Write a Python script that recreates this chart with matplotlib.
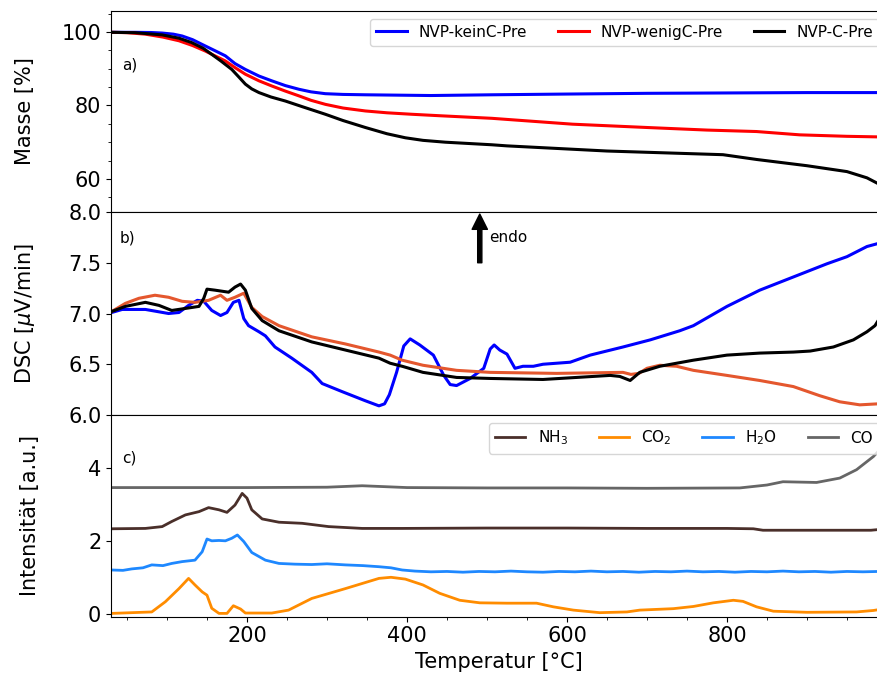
import matplotlib
matplotlib.use("Agg")
import matplotlib.pyplot as plt
from matplotlib.ticker import MultipleLocator

# ---------------- a) TG: mass loss ----------------
tg_keinC_T = [31, 60, 80, 94, 108, 119, 132, 144, 160, 173, 185, 198, 215, 231, 248, 265, 280, 298, 320, 348, 430, 506, 600, 700, 800, 900, 1000]
tg_keinC_M = [99.9, 99.9, 99.85, 99.7, 99.4, 98.9, 97.9, 96.6, 94.9, 93.5, 91.4, 89.8, 88.0, 86.7, 85.4, 84.4, 83.7, 83.2, 83.0, 82.9, 82.7, 82.9, 83.1, 83.3, 83.4, 83.5, 83.5]

tg_wenigC_T = [31, 50, 73, 95, 115, 132, 148, 160, 173, 185, 198, 215, 231, 248, 265, 280, 298, 320, 348, 375, 406, 441, 506, 607, 700, 775, 837, 891, 950, 1000]
tg_wenigC_M = [99.9, 99.8, 99.4, 98.6, 97.6, 96.3, 94.8, 93.5, 92.1, 90.3, 88.5, 86.7, 85.3, 83.9, 82.6, 81.4, 80.3, 79.3, 78.5, 78.0, 77.6, 77.2, 76.5, 74.9, 74.0, 73.3, 72.9, 72.0, 71.6, 71.4]

tg_C_T = [31, 60, 94, 115, 131, 145, 156, 168, 181, 190, 198, 206, 215, 230, 248, 270, 298, 320, 348, 375, 398, 420, 448, 506, 525, 650, 795, 837, 900, 950, 975, 990, 1000]
tg_C_M = [99.9, 99.8, 99.2, 98.3, 97.1, 95.6, 93.9, 92.0, 89.8, 87.7, 85.8, 84.5, 83.5, 82.3, 81.2, 79.6, 77.6, 75.9, 74.0, 72.3, 71.2, 70.5, 70.0, 69.3, 69.0, 67.6, 66.6, 65.3, 63.6, 62.0, 60.3, 58.6, 57.0]

# ---------------- b) DSC ----------------
dsc_keinC_T = [31, 44, 73, 102, 115, 127, 138, 146, 156, 167, 175, 183, 190, 196, 202, 215, 223, 235, 256, 281,
               294, 319, 348, 365, 372, 378, 387, 396, 404, 416, 433, 446, 454, 462, 479, 496, 504, 509, 516, 525,
               535, 545, 558, 570, 587, 604, 629, 670, 704, 741, 758, 800, 841, 883, 925, 950, 975, 989, 1000]
dsc_keinC_D = [7.01, 7.04, 7.04, 7.00, 7.01, 7.08, 7.13, 7.12, 7.03, 6.98, 7.01, 7.11, 7.13, 6.95, 6.88, 6.82, 6.78, 6.67, 6.56, 6.42,
               6.31, 6.23, 6.14, 6.09, 6.11, 6.20, 6.42, 6.68, 6.75, 6.69, 6.59, 6.39, 6.30, 6.29, 6.36, 6.46, 6.65, 6.69, 6.64, 6.60,
               6.46, 6.48, 6.48, 6.50, 6.51, 6.52, 6.59, 6.67, 6.74, 6.83, 6.88, 7.07, 7.23, 7.36, 7.49, 7.56, 7.66, 7.69, 7.71]

dsc_wenigC_T = [31, 48, 65, 85, 102, 119, 135, 152, 167, 175, 185, 196, 206, 219, 240, 281, 323, 365, 379, 394, 420,
                462, 504, 587, 670, 680, 690, 700, 716, 737, 758, 800, 841, 883, 916, 941, 966, 989, 1000]
dsc_wenigC_D = [7.02, 7.10, 7.15, 7.18, 7.16, 7.12, 7.11, 7.13, 7.18, 7.13, 7.16, 7.20, 7.06, 6.97, 6.88, 6.77, 6.70, 6.62, 6.59, 6.54, 6.49,
                6.44, 6.42, 6.41, 6.42, 6.40, 6.41, 6.46, 6.49, 6.48, 6.44, 6.39, 6.34, 6.28, 6.19, 6.13, 6.10, 6.11, 6.11]

dsc_C_T = [31, 48, 73, 90, 106, 123, 140, 146, 150, 160, 177, 185, 192, 198, 206, 219, 240, 281, 323, 365, 379, 394,
           420, 462, 504, 570, 612, 654, 666, 679, 691, 716, 758, 800, 841, 883, 904, 933, 958, 975, 985, 989, 1000]
dsc_C_D = [7.02, 7.07, 7.11, 7.08, 7.03, 7.05, 7.07, 7.15, 7.24, 7.23, 7.21, 7.26, 7.29, 7.23, 7.05, 6.93, 6.83, 6.72, 6.64, 6.56, 6.51, 6.48,
           6.42, 6.37, 6.36, 6.35, 6.37, 6.39, 6.38, 6.34, 6.42, 6.48, 6.54, 6.59, 6.61, 6.62, 6.63, 6.67, 6.74, 6.82, 6.88, 6.93, 7.05]

# ---------------- c) MS ion currents ----------------
ms_NH3_T = [31, 73, 94, 106, 123, 140, 152, 165, 175, 185, 194, 200, 206, 219, 240, 269, 302, 344, 394, 500, 600, 700,
            800, 833, 845, 900, 980, 1000]
ms_NH3_I = [2.34, 2.35, 2.40, 2.54, 2.72, 2.81, 2.92, 2.86, 2.79, 2.99, 3.31, 3.18, 2.86, 2.61, 2.52, 2.49, 2.40, 2.35, 2.35, 2.36, 2.36, 2.35,
            2.35, 2.34, 2.30, 2.30, 2.30, 2.34]

ms_CO2_T = [31, 81, 98, 115, 127, 135, 144, 150, 156, 165, 175, 183, 192, 198, 231, 252, 281, 323, 365, 380, 398, 420,
            441, 466, 491, 525, 562, 583, 608, 641, 675, 691, 733, 758, 783, 808, 820, 837, 858, 900, 962, 983, 1000]
ms_CO2_I = [0.02, 0.06, 0.34, 0.70, 0.98, 0.80, 0.61, 0.52, 0.16, 0.02, 0.02, 0.23, 0.14, 0.03, 0.03, 0.11, 0.43, 0.70, 0.98, 1.01, 0.96, 0.80,
            0.57, 0.38, 0.31, 0.30, 0.30, 0.20, 0.11, 0.04, 0.06, 0.11, 0.15, 0.21, 0.31, 0.38, 0.35, 0.20, 0.08, 0.05, 0.06, 0.10, 0.16]

ms_H2O_T = [31, 45, 56, 70, 81, 95, 106, 119, 135, 144, 150, 156, 165, 173, 181, 188, 196, 206, 223, 240, 260, 281, 300,
            323, 345, 365, 380, 394, 410, 430, 450, 470, 490, 510, 530, 550, 570, 590, 610, 630, 650, 670, 690, 710,
            730, 750, 770, 790, 810, 830, 850, 870, 890, 910, 930, 950, 970, 990, 1000]
ms_H2O_I = [1.21, 1.20, 1.24, 1.27, 1.35, 1.33, 1.39, 1.44, 1.48, 1.71, 2.06, 2.01, 2.02, 2.01, 2.08, 2.17, 1.99, 1.69, 1.48, 1.39, 1.37, 1.36, 1.38,
            1.35, 1.33, 1.30, 1.27, 1.21, 1.18, 1.16, 1.17, 1.15, 1.17, 1.16, 1.18, 1.16, 1.15, 1.17, 1.16, 1.18, 1.16, 1.17, 1.15, 1.17,
            1.16, 1.18, 1.16, 1.17, 1.15, 1.17, 1.16, 1.18, 1.16, 1.17, 1.15, 1.17, 1.16, 1.17, 1.16]

ms_CO_T = [31, 200, 300, 344, 400, 500, 600, 700, 816, 850, 870, 891, 912, 941, 962, 983, 989, 1000]
ms_CO_I = [3.47, 3.47, 3.48, 3.52, 3.47, 3.46, 3.46, 3.45, 3.46, 3.54, 3.63, 3.62, 3.61, 3.73, 3.96, 4.32, 4.46, 4.60]

sample_labels = ["NVP-keinC-Pre", "NVP-wenigC-Pre", "NVP-C-Pre"]
gas_labels = ["NH$_3$", "CO$_2$", "H$_2$O", "CO"]

# ---------------- figure ----------------
fig = plt.figure(figsize=(8.78, 6.75), dpi=100)
left, width = 0.1264, 0.8838
ax_a = fig.add_axes([left, 0.6859, width, 0.2978])
ax_b = fig.add_axes([left, 0.3852, width, 0.3007], sharex=ax_a)
ax_c = fig.add_axes([left, 0.0864, width, 0.2988], sharex=ax_a)

lw = 2.2
# a) TG
ax_a.plot(tg_keinC_T, tg_keinC_M, color="blue", lw=lw, label=sample_labels[0])
ax_a.plot(tg_wenigC_T, tg_wenigC_M, color="red", lw=lw, label=sample_labels[1])
ax_a.plot(tg_C_T, tg_C_M, color="black", lw=lw, label=sample_labels[2])
ax_a.set_ylim(51, 105.7)
ax_a.set_yticks([60, 80, 100])
ax_a.yaxis.set_minor_locator(MultipleLocator(5))
ax_a.set_ylabel("Masse [%]", fontsize=15)
ax_a.legend(loc="upper right", ncol=3, fontsize=11)
ax_a.text(44, 91, "a)", fontsize=11, ha="left", va="center")

# b) DSC
ax_b.plot(dsc_keinC_T, dsc_keinC_D, color="blue", lw=lw)
ax_b.plot(dsc_wenigC_T, dsc_wenigC_D, color="#e4572e", lw=lw)
ax_b.plot(dsc_C_T, dsc_C_D, color="black", lw=lw)
ax_b.set_ylim(6.0, 8.0)
ax_b.set_yticks([6.0, 6.5, 7.0, 7.5, 8.0])
ax_b.set_ylabel(r"DSC [$\mu$V/min]", fontsize=15)
ax_b.text(41, 7.74, "b)", fontsize=11, ha="left", va="center")
ax_b.annotate("", xy=(491, 7.98), xytext=(491, 7.5),
              arrowprops=dict(facecolor="black", edgecolor="black", width=3, headwidth=11,
                              headlength=11, shrink=0))
ax_b.text(503, 7.75, "endo", fontsize=11, ha="left", va="center")

# c) MS
lw_ms = 2.0
ax_c.plot(ms_NH3_T, ms_NH3_I, color="#4a2f2a", lw=lw_ms, label=gas_labels[0])
ax_c.plot(ms_CO2_T, ms_CO2_I, color="#ff8c00", lw=lw_ms, label=gas_labels[1])
ax_c.plot(ms_H2O_T, ms_H2O_I, color="#1e88ff", lw=lw_ms, label=gas_labels[2])
ax_c.plot(ms_CO_T, ms_CO_I, color="#666666", lw=lw_ms, label=gas_labels[3])
ax_c.set_ylim(-0.07, 5.46)
ax_c.set_yticks([0, 2, 4])
ax_c.set_ylabel("Intensität [a.u.]", fontsize=15)
ax_c.legend(loc="upper right", ncol=4, fontsize=11)
ax_c.text(44, 4.29, "c)", fontsize=11, ha="left", va="center")

ax_c.set_xlim(30, 1000)
ax_c.set_xticks([200, 400, 600, 800])
ax_c.xaxis.set_minor_locator(MultipleLocator(50))
ax_c.set_xlabel("Temperatur [°C]", fontsize=15)

for ax in (ax_a, ax_b):
    ax.tick_params(axis="x", which="both", bottom=False, labelbottom=False)
for ax in (ax_a, ax_b, ax_c):
    ax.tick_params(axis="both", which="major", labelsize=15)

ax_a.yaxis.set_label_coords(-0.098, 0.5)
ax_b.yaxis.set_label_coords(-0.095, 0.5)
ax_c.yaxis.set_label_coords(-0.092, 0.5)

fig.savefig("out.png", dpi=100)
